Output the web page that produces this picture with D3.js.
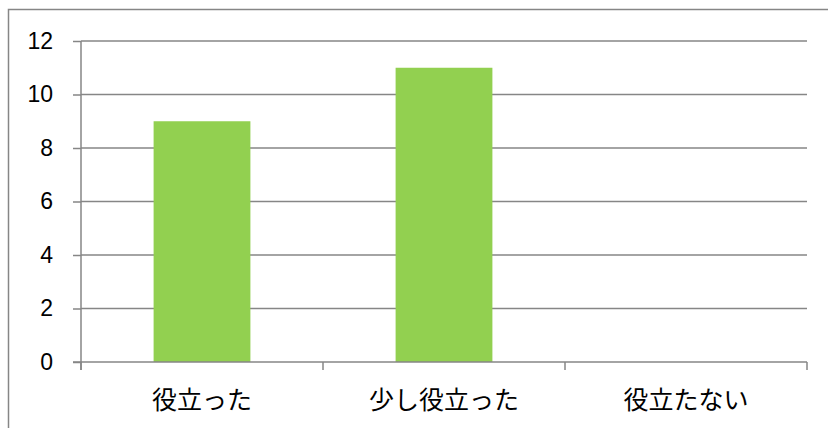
<!DOCTYPE html>
<html>
<head>
<meta charset="utf-8">
<script src="https://cdn.jsdelivr.net/npm/d3@7"></script>
<style>
  body { margin: 0; background: #fff; }
  svg { display: block; }
</style>
</head>
<body>
<div id="chart"></div>
<script>
const width = 828;
const height = 428;

// data
const categories = ["役立った", "少し役立った", "役立たない"];
const values = [9, 11, 0];
const yTicks = [0, 2, 4, 6, 8, 10, 12];

// plot area
const plotLeft = 81, plotRight = 807, plotTop = 41, plotBottom = 362;
const gridColor = "#868686";

var svg = d3.select("#chart").
append("svg").
attr("width", width).
attr("height", height);

// outer chart border (top and left visible)
svg.append("path").
attr("d", "M8.5," + height + "V9.5H" + width).
attr("fill", "none").
attr("stroke", gridColor).
attr("stroke-width", 1.5);

var xScale = d3.scaleBand().
domain(categories).
range([plotLeft, plotRight]).
padding(0);

var yScale = d3.scaleLinear().
domain([0, 12]).
range([plotBottom, plotTop]);

// gridlines
svg.append("g").
selectAll("line").
data(yTicks.filter(t => t > 0)).
enter().
append("line").
attr("x1", plotLeft).
attr("x2", plotRight).
attr("y1", d => yScale(d)).
attr("y2", d => yScale(d)).
attr("stroke", gridColor).
attr("stroke-width", 1.5);

// bars
const barFrac = 0.4;
svg.append("g").
selectAll("rect").
data(values).
enter().
append("rect").
attr("x", (d, i) => xScale(categories[i]) + xScale.bandwidth() * (1 - barFrac) / 2).
attr("y", d => yScale(d)).
attr("width", xScale.bandwidth() * barFrac).
attr("height", d => yScale(0) - yScale(d)).
attr("fill", "#92D050");

// y-axis
var yAxis = d3.axisLeft(yScale).
tickValues(yTicks).
tickSize(8).
tickPadding(20);

var gy = svg.append("g").
attr("transform", "translate(" + plotLeft + ",0)").
call(yAxis);
gy.select(".domain").remove();
gy.selectAll(".tick line").attr("stroke", gridColor).attr("stroke-width", 1.5);
gy.selectAll(".tick text").
attr("fill", "#000").
style("font-family", "'Liberation Sans', Arial, sans-serif").
style("font-size", "23px");

// y-axis line
svg.append("line").
attr("x1", plotLeft).attr("x2", plotLeft).
attr("y1", plotTop).attr("y2", plotBottom + 8).
attr("stroke", gridColor).
attr("stroke-width", 1.5);

// x-axis line
svg.append("line").
attr("x1", plotLeft - 8).attr("x2", plotRight).
attr("y1", plotBottom).attr("y2", plotBottom).
attr("stroke", gridColor).
attr("stroke-width", 1.5);

// x-axis ticks at category boundaries
const bounds = categories.map(c => xScale(c)).concat([plotRight]);
svg.append("g").
selectAll("line").
data(bounds).
enter().
append("line").
attr("x1", d => d).attr("x2", d => d).
attr("y1", plotBottom).attr("y2", plotBottom + 8).
attr("stroke", gridColor).
attr("stroke-width", 1.5);

// x labels
svg.append("g").
selectAll("text").
data(categories).
enter().
append("text").
attr("x", d => xScale(d) + xScale.bandwidth() / 2).
attr("y", 409).
attr("text-anchor", "middle").
attr("fill", "#000").
style("font-family", "'Noto Sans CJK JP', sans-serif").
style("font-size", "25px").
text(d => d);
</script>
</body>
</html>
